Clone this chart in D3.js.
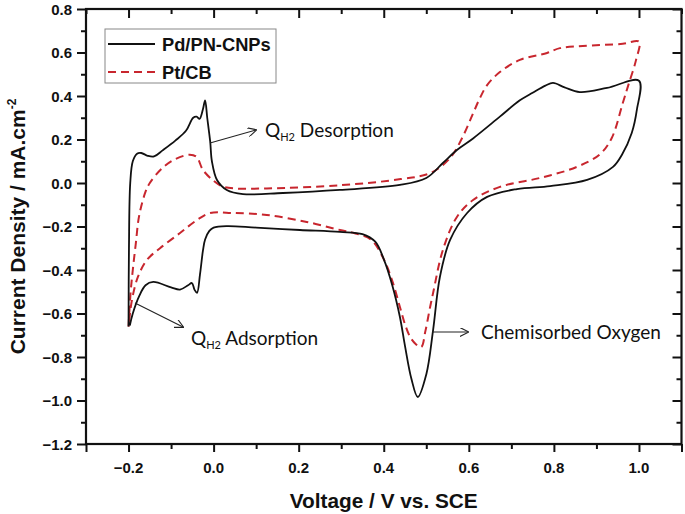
<!DOCTYPE html>
<html>
<head>
<meta charset="utf-8">
<script src="https://cdn.jsdelivr.net/npm/d3@7"></script>
<style>
  body { margin: 0; background: #fff; }
  svg { display: block; }
</style>
</head>
<body>
<div id="chart"></div>
<script>
// Pd/PN-CNPs: anodic sweep then cathodic sweep, [V, mA/cm2]
const pdPoints = [
  [-0.200, -0.660], [-0.199, -0.300], [-0.196, 0.000], [-0.190, 0.100], [-0.180, 0.135],
  [-0.170, 0.138], [-0.155, 0.125], [-0.140, 0.122], [-0.120, 0.150], [-0.090, 0.195],
  [-0.065, 0.240], [-0.048, 0.300], [-0.040, 0.305], [-0.033, 0.295], [-0.025, 0.340],
  [-0.020, 0.380], [-0.015, 0.300], [-0.008, 0.190], [-0.004, 0.100], [0.008, 0.014],
  [0.031, -0.032], [0.069, -0.051], [0.163, -0.046], [0.297, -0.032], [0.438, -0.009],
  [0.500, 0.023], [0.539, 0.092], [0.572, 0.152], [0.610, 0.205], [0.673, 0.305],
  [0.720, 0.380], [0.750, 0.415], [0.780, 0.448], [0.798, 0.460], [0.825, 0.440],
  [0.861, 0.418], [0.925, 0.437], [1.000, 0.470],
  [0.995, 0.336], [0.983, 0.230], [0.960, 0.130], [0.939, 0.074], [0.878, 0.014],
  [0.791, -0.014], [0.713, -0.028], [0.643, -0.064], [0.596, -0.138], [0.556, -0.262],
  [0.532, -0.432], [0.516, -0.676], [0.500, -0.880], [0.480, -0.984], [0.465, -0.900],
  [0.450, -0.750], [0.438, -0.616], [0.420, -0.470], [0.400, -0.350], [0.380, -0.270],
  [0.350, -0.235], [0.297, -0.225], [0.203, -0.216], [0.100, -0.205], [0.031, -0.198],
  [0.000, -0.205], [-0.010, -0.220], [-0.020, -0.260], [-0.025, -0.310], [-0.032, -0.420],
  [-0.039, -0.505], [-0.045, -0.490], [-0.051, -0.460], [-0.060, -0.470], [-0.079, -0.490],
  [-0.100, -0.480], [-0.142, -0.455], [-0.160, -0.470], [-0.175, -0.520], [-0.190, -0.600],
  [-0.197, -0.655]
];

// Pt/CB
const ptPoints = [
  [-0.200, -0.660], [-0.195, -0.500], [-0.190, -0.400], [-0.183, -0.280], [-0.175, -0.150],
  [-0.160, -0.040], [-0.150, 0.000], [-0.120, 0.070], [-0.090, 0.110], [-0.056, 0.130],
  [-0.040, 0.120], [-0.025, 0.060], [0.000, 0.010], [0.020, -0.015], [0.050, -0.025],
  [0.125, -0.025], [0.300, -0.010], [0.440, 0.018], [0.510, 0.046], [0.556, 0.115],
  [0.585, 0.210], [0.610, 0.320], [0.626, 0.390], [0.643, 0.450], [0.673, 0.510],
  [0.720, 0.566], [0.784, 0.598], [0.814, 0.620], [0.868, 0.630], [0.962, 0.640],
  [1.000, 0.650],
  [0.993, 0.565], [0.975, 0.450], [0.962, 0.368], [0.936, 0.207], [0.908, 0.132],
  [0.854, 0.074], [0.767, 0.023], [0.673, -0.018], [0.610, -0.078], [0.572, -0.156],
  [0.539, -0.308], [0.516, -0.506], [0.509, -0.570], [0.498, -0.680], [0.488, -0.754],
  [0.475, -0.740], [0.462, -0.708], [0.450, -0.650], [0.438, -0.570], [0.420, -0.450],
  [0.400, -0.350], [0.370, -0.260], [0.330, -0.230], [0.297, -0.216], [0.219, -0.179],
  [0.125, -0.147], [0.046, -0.138], [-0.008, -0.138], [-0.039, -0.170], [-0.079, -0.230],
  [-0.126, -0.300], [-0.157, -0.354], [-0.178, -0.432], [-0.192, -0.538], [-0.200, -0.660]
];

const xTicks = [-0.2, 0.0, 0.2, 0.4, 0.6, 0.8, 1.0];
const yTicks = [0.8, 0.6, 0.4, 0.2, 0.0, -0.2, -0.4, -0.6, -0.8, -1.0, -1.2];
const seriesNames = ["Pd/PN-CNPs", "Pt/CB"];

const width = 685, height = 514;
const margin = {left: 86, right: 3.5, top: 9, bottom: 70};

const x = d3.scaleLinear().domain([-0.3, 1.1]).range([margin.left, width - margin.right]);
const y = d3.scaleLinear().domain([-1.2, 0.8]).range([height - margin.bottom, margin.top]);

const svg = d3.select("#chart").append("svg")
    .attr("width", width)
    .attr("height", height)
    .attr("viewBox", [0, 0, width, height]);

svg.append("defs").append("marker")
    .attr("id", "arr")
    .attr("viewBox", "0 0 10 10")
    .attr("refX", 9).attr("refY", 5)
    .attr("markerWidth", 9).attr("markerHeight", 9)
    .attr("markerUnits", "userSpaceOnUse")
    .attr("orient", "auto")
  .append("path")
    .attr("d", "M0,0 L10,5 L0,10")
    .attr("fill", "none")
    .attr("stroke", "#222")
    .attr("stroke-width", 1.2);

const xMinor = d3.range(-0.3, 1.1001, 0.1).map(v => +v.toFixed(2));
const yMinor = d3.range(-1.2, 0.8001, 0.1).map(v => +v.toFixed(2));
const isMajor = (v, arr) => arr.some(t => Math.abs(t - v) < 1e-6);

// axes
const fmt = d3.format(".1f");
const axBottom = svg.append("g").attr("transform", `translate(0,${y(-1.2)})`)
    .call(d3.axisBottom(x).tickValues(xMinor).tickFormat("").tickSize(5));
axBottom.selectAll(".tick line").attr("y2", d => isMajor(d, xTicks) || Math.abs(d + 0.3) < 1e-6 || Math.abs(d - 1.1) < 1e-6 ? 8 : 5);
const axLeft = svg.append("g").attr("transform", `translate(${x(-0.3)},0)`)
    .call(d3.axisLeft(y).tickValues(yMinor).tickFormat("").tickSize(5));
axLeft.selectAll(".tick line").attr("x2", d => isMajor(d, yTicks) ? -9 : -5);
const axTop = svg.append("g").attr("transform", `translate(0,${y(0.8)})`)
    .call(d3.axisBottom(x).tickValues(xMinor).tickFormat("").tickSize(5));
axTop.selectAll(".tick line").attr("y2", d => isMajor(d, xTicks) ? 9 : 5);
const axRight = svg.append("g").attr("transform", `translate(${x(1.1)},0)`)
    .call(d3.axisLeft(y).tickValues(yMinor).tickFormat("").tickSize(5));
axRight.selectAll(".tick line").attr("x2", d => isMajor(d, yTicks) ? -9 : -5);

svg.selectAll(".domain").remove();
svg.selectAll(".tick line").attr("stroke", "#111").attr("stroke-width", 2);

svg.append("rect")
    .attr("x", x(-0.3)).attr("y", y(0.8))
    .attr("width", x(1.1) - x(-0.3)).attr("height", y(-1.2) - y(0.8))
    .attr("fill", "none").attr("stroke", "#111").attr("stroke-width", 2.2);

// tick labels
svg.append("g").selectAll("text").data(xTicks).join("text")
    .attr("x", d => x(d)).attr("y", y(-1.2) + 29)
    .attr("text-anchor", "middle")
    .attr("font-family", "Liberation Sans, Arial, sans-serif")
    .attr("font-weight", "bold").attr("font-size", 15)
    .attr("fill", "#111")
    .text(d => fmt(d));
svg.append("g").selectAll("text").data(yTicks).join("text")
    .attr("x", 72).attr("y", d => y(d) + 5.5)
    .attr("text-anchor", "end")
    .attr("font-family", "Liberation Sans, Arial, sans-serif")
    .attr("font-weight", "bold").attr("font-size", 15)
    .attr("fill", "#111")
    .text(d => fmt(d));

// axis titles
svg.append("text")
    .attr("x", (x(-0.3) + x(1.1)) / 2).attr("y", 508)
    .attr("text-anchor", "middle")
    .attr("font-family", "Liberation Sans, Arial, sans-serif")
    .attr("font-weight", "bold").attr("font-size", 20.8)
    .attr("fill", "#111")
    .text("Voltage / V vs. SCE");

const yt = svg.append("text")
    .attr("transform", `translate(25,${(y(0.8) + y(-1.2)) / 2}) rotate(-90)`)
    .attr("text-anchor", "middle")
    .attr("font-family", "Liberation Sans, Arial, sans-serif")
    .attr("font-weight", "bold").attr("font-size", 21)
    .attr("fill", "#111");
yt.append("tspan").text("Current Density / mA.cm");
yt.append("tspan").attr("dy", -9).attr("font-size", 12).text("-2");

// curves
const line = d3.line()
    .x(d => x(d[0]))
    .y(d => y(d[1]))
    .curve(d3.curveCatmullRom.alpha(0.5));

svg.append("path").datum(ptPoints)
    .attr("d", line)
    .attr("fill", "none")
    .attr("stroke", "#c8262e")
    .attr("stroke-width", 2)
    .attr("stroke-dasharray", "8,5");

svg.append("path").datum(pdPoints)
    .attr("d", line)
    .attr("fill", "none")
    .attr("stroke", "#111")
    .attr("stroke-width", 1.8);

// legend
const lg = svg.append("g");
lg.append("rect")
    .attr("x", 105).attr("y", 29).attr("width", 171).attr("height", 54)
    .attr("fill", "#fff").attr("stroke", "#888").attr("stroke-width", 1);
seriesNames.forEach((name, i) => {
  const ly = 44 + i * 28;
  lg.append("line")
      .attr("x1", 108).attr("x2", 155).attr("y1", ly).attr("y2", ly)
      .attr("stroke", i === 0 ? "#111" : "#c8262e")
      .attr("stroke-width", i === 0 ? 1.8 : 2)
      .attr("stroke-dasharray", i === 0 ? null : "8,5");
  lg.append("text")
      .attr("x", 162).attr("y", ly + 6.5)
      .attr("font-family", "Liberation Sans, Arial, sans-serif")
      .attr("font-weight", "bold").attr("font-size", 18.3)
      .attr("fill", "#111")
      .text(name);
});

// annotations
const notes = [
  {x1: 210, y1: 143, x2: 256, y2: 130, tx: 265, ty: 137, main: "Q", sub: "H2", rest: " Desorption"},
  {x1: 135, y1: 303, x2: 183, y2: 327, tx: 191, ty: 345, main: "Q", sub: "H2", rest: " Adsorption"},
  {x1: 432, y1: 332, x2: 468, y2: 332, tx: 481, ty: 339, main: "", sub: "", rest: "Chemisorbed Oxygen"}
];
notes.forEach(n => {
  svg.append("line")
      .attr("x1", n.x1).attr("y1", n.y1).attr("x2", n.x2).attr("y2", n.y2)
      .attr("stroke", "#222").attr("stroke-width", 1.1)
      .attr("marker-end", "url(#arr)");
  const t = svg.append("text")
      .attr("x", n.tx).attr("y", n.ty)
      .attr("font-family", "Lato, 'Open Sans', sans-serif")
      .attr("font-size", 19)
      .attr("fill", "#111");
  if (n.main) {
    t.append("tspan").text(n.main);
    t.append("tspan").attr("dy", 4).attr("font-size", 11).text(n.sub);
    t.append("tspan").attr("dy", -4).text(n.rest);
  } else {
    t.text(n.rest);
  }
});
</script>
</body>
</html>
